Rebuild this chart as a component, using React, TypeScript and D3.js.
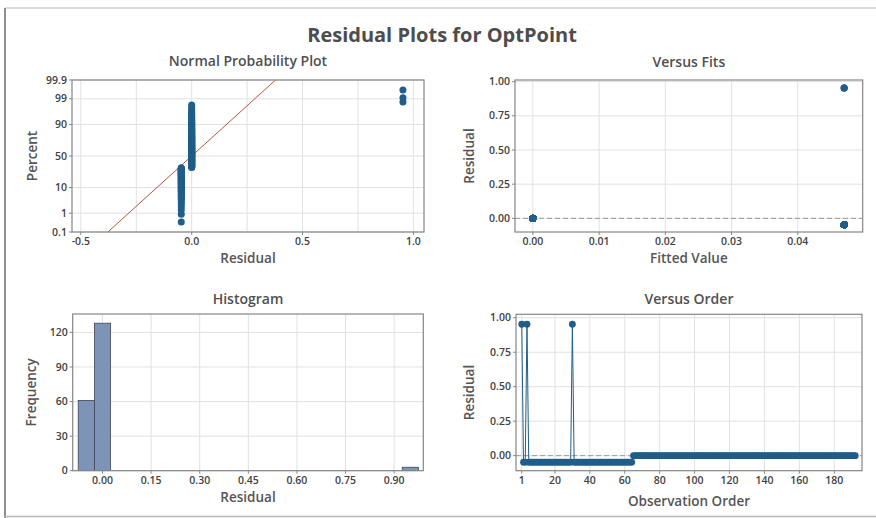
import React from 'react';
import * as d3 from 'd3';

const W = 876;
const H = 518;

// Residuals in observation order, stored as runs of equal values
const runResiduals = [0.953, -0.047, 0.953, -0.047, 0.953, -0.047, 0.0];
const runFits = [0.047, 0.047, 0.047, 0.047, 0.047, 0.047, 0.0];
const runLengths = [1, 2, 1, 25, 1, 34, 128];

// Axis ticks
const probYTicks = [0.1, 1, 10, 50, 90, 99, 99.9];
const probXTicks = [-0.5, 0, 0.5, 1.0];
const probXGrid = [-0.5, -0.25, 0, 0.25, 0.5, 0.75, 1.0];
const fitsXTicks = [0, 0.01, 0.02, 0.03, 0.04];
const residualTicks = [0, 0.25, 0.5, 0.75, 1.0];
const histXTicks = [0, 0.15, 0.3, 0.45, 0.6, 0.75, 0.9];
const histYTicks = [0, 30, 60, 90, 120];
const histBinStart = -0.075;
const histBinWidth = 0.05;
const orderTicks = [1, 20, 40, 60, 80, 100, 120, 140, 160, 180];

const BLUE = '#215d89';
const FONT = "'Open Sans', 'DejaVu Sans', sans-serif";
const TEXT = '#424242';

type Obs = { order: number; resid: number; fit: number };

const observations: Obs[] = runLengths
  .flatMap((len, i) => Array.from({ length: len }, () => ({ resid: runResiduals[i], fit: runFits[i] })))
  .map((d, i) => ({ ...d, order: i + 1 }));

// Inverse standard normal CDF (Acklam's rational approximation)
function probit(p: number): number {
  const a = [-3.969683028665376e1, 2.209460984245205e2, -2.759285104469687e2, 1.38357751867269e2, -3.066479806614716e1, 2.506628277459239];
  const b = [-5.447609879822406e1, 1.615858368580409e2, -1.556989798598866e2, 6.680131188771972e1, -1.328068155288572e1];
  const c = [-7.784894002430293e-3, -3.223964580411365e-1, -2.400758277161838, -2.549732539343734, 4.374664141464968, 2.938163982698783];
  const d = [7.784695709041462e-3, 3.224671290700398e-1, 2.445134137142996, 3.754408661907416];
  const pl = 0.02425;
  if (p < pl) {
    const q = Math.sqrt(-2 * Math.log(p));
    return (((((c[0] * q + c[1]) * q + c[2]) * q + c[3]) * q + c[4]) * q + c[5]) / ((((d[0] * q + d[1]) * q + d[2]) * q + d[3]) * q + 1);
  }
  if (p > 1 - pl) {
    const q = Math.sqrt(-2 * Math.log(1 - p));
    return -(((((c[0] * q + c[1]) * q + c[2]) * q + c[3]) * q + c[4]) * q + c[5]) / ((((d[0] * q + d[1]) * q + d[2]) * q + d[3]) * q + 1);
  }
  const q = p - 0.5;
  const r = q * q;
  return ((((((a[0] * r + a[1]) * r + a[2]) * r + a[3]) * r + a[4]) * r + a[5]) * q) / (((((b[0] * r + b[1]) * r + b[2]) * r + b[3]) * r + b[4]) * r + 1);
}

type Tick = { v: number; label: string };

type PanelProps = {
  id: string;
  left: number;
  right: number;
  top: number;
  bottom: number;
  xPos: (v: number) => number;
  yPos: (v: number) => number;
  xGrid: number[];
  yGrid: number[];
  xTicks: Tick[];
  yTicks: Tick[];
  title: string;
  titleY: number;
  xLabel: string;
  xLabelY: number;
  xTickY: number;
  yLabel: string;
  yLabelX: number;
  children?: React.ReactNode;
};

function Panel(p: PanelProps) {
  const cx = (p.left + p.right) / 2;
  const cy = (p.top + p.bottom) / 2;
  return (
    <g>
      <defs>
        <clipPath id={p.id}>
          <rect x={p.left} y={p.top} width={p.right - p.left} height={p.bottom - p.top} />
        </clipPath>
      </defs>
      <rect x={p.left} y={p.top} width={p.right - p.left} height={p.bottom - p.top} fill="#fff" />
      {p.xGrid.map((v) => (
        <line key={'gx' + v} x1={p.xPos(v)} x2={p.xPos(v)} y1={p.top} y2={p.bottom} stroke="#e1e1e1" strokeWidth={1} />
      ))}
      {p.yGrid.map((v) => (
        <line key={'gy' + v} x1={p.left} x2={p.right} y1={p.yPos(v)} y2={p.yPos(v)} stroke="#e1e1e1" strokeWidth={1} />
      ))}
      <g clipPath={`url(#${p.id})`}>{p.children}</g>
      <rect x={p.left} y={p.top} width={p.right - p.left} height={p.bottom - p.top} fill="none" stroke="#868686" strokeWidth={1.2} />
      {p.xTicks.map((t) => (
        <g key={'tx' + t.v}>
          <line x1={p.xPos(t.v)} x2={p.xPos(t.v)} y1={p.bottom} y2={p.bottom + 3} stroke="#868686" />
          <text x={p.xPos(t.v)} y={p.xTickY} textAnchor="middle" fontSize={10.5} fontWeight={600} fill={TEXT}>
            {t.label}
          </text>
        </g>
      ))}
      {p.yTicks.map((t) => (
        <g key={'ty' + t.v}>
          <line x1={p.left - 3} x2={p.left} y1={p.yPos(t.v)} y2={p.yPos(t.v)} stroke="#868686" />
          <text x={p.left - 5} y={p.yPos(t.v)} dy="0.35em" textAnchor="end" fontSize={10.5} fontWeight={600} fill={TEXT}>
            {t.label}
          </text>
        </g>
      ))}
      <text x={cx} y={p.titleY} textAnchor="middle" fontSize={14} fontWeight={600} fill="#4f4f4f">
        {p.title}
      </text>
      <text x={cx} y={p.xLabelY} textAnchor="middle" fontSize={13.5} fontWeight={600} fill="#555">
        {p.xLabel}
      </text>
      <text
        transform={`translate(${p.yLabelX},${cy}) rotate(-90)`}
        textAnchor="middle"
        fontSize={13.5}
        fontWeight={600}
        fill="#555"
      >
        {p.yLabel}
      </text>
    </g>
  );
}

export default function App() {
  const n = observations.length;
  const residuals = observations.map((d) => d.resid);
  const mean = d3.mean(residuals) as number;
  const sd = d3.deviation(residuals) as number;

  // Normal probability plot
  const npX = d3.scaleLinear().domain([-0.54, 1.048]).range([72, 424]);
  const npY = d3.scaleLinear().domain([-3.09, 3.09]).range([232, 80]);
  const sorted = [...residuals].sort((a, b) => a - b);
  const npPoints = sorted.map((r, i) => ({ r, z: probit((i + 1 - 0.3) / (n + 0.4)) }));
  const zLo = -3.5;
  const zHi = 3.5;

  // Versus fits
  const fX = d3.scaleLinear().domain([-0.0027, 0.0498]).range([515, 862.7]);
  const fY = d3.scaleLinear().domain([-0.1, 1.012]).range([232, 80]);

  // Histogram
  const hX = d3.scaleLinear().domain([-0.092, 0.99]).range([72.7, 423.3]);
  const hY = d3.scaleLinear().domain([0, 136]).range([470.7, 314]);
  const thresholds = d3.range(0, 22).map((k) => histBinStart + k * histBinWidth);
  const bins = d3
    .bin<number, number>()
    .domain([histBinStart, histBinStart + 21 * histBinWidth])
    .thresholds(thresholds)(residuals)
    .filter((b) => b.length > 0);

  // Versus order
  const oX = d3.scaleLinear().domain([-2.3, 195.9]).range([516, 862]);
  const oY = d3.scaleLinear().domain([-0.109, 1.025]).range([470.7, 314.3]);
  const orderLine = d3
    .line<Obs>()
    .x((d) => oX(d.order))
    .y((d) => oY(d.resid));

  const fmt = (digits: number) => (v: number) => v.toFixed(digits);

  return (
    <svg
      width={W}
      height={H}
      viewBox={`0 0 ${W} ${H}`}
      style={{ position: 'absolute', left: 0, top: 0, display: 'block', background: '#fff' }}
      fontFamily={FONT}
    >
      <rect x={0} y={0} width={W} height={H} fill="#fff" />
      {/* outer frame */}
      <line x1={5} x2={W} y1={8} y2={8} stroke="#d0d0d0" strokeWidth={1.5} />
      <line x1={5} x2={5} y1={8} y2={H} stroke="#8e8e8e" strokeWidth={2} />
      <line x1={5} x2={W} y1={516.5} y2={516.5} stroke="#b8b8b8" strokeWidth={1.5} />

      <text x={442} y={42} textAnchor="middle" fontSize={20} fontWeight={700} fill="#4d4d4d">
        Residual Plots for OptPoint
      </text>

      <Panel
        id="clip-np"
        left={72}
        right={424}
        top={80}
        bottom={232}
        xPos={npX}
        yPos={(p) => npY(probit(p / 100))}
        xGrid={probXGrid}
        yGrid={probYTicks}
        xTicks={probXTicks.map((v) => ({ v, label: fmt(1)(v) }))}
        yTicks={probYTicks.map((v) => ({ v, label: String(v) }))}
        title="Normal Probability Plot"
        titleY={66}
        xLabel="Residual"
        xLabelY={263}
        xTickY={245}
        yLabel="Percent"
        yLabelX={36.5}
      >
        <line
          x1={npX(mean + sd * zLo)}
          y1={npY(zLo)}
          x2={npX(mean + sd * zHi)}
          y2={npY(zHi)}
          stroke="#b9533f"
          strokeWidth={1}
        />
        {npPoints.map((d, i) => (
          <circle key={i} cx={npX(d.r)} cy={npY(d.z)} r={3.5} fill={BLUE} />
        ))}
      </Panel>

      <Panel
        id="clip-fits"
        left={515}
        right={862.7}
        top={80}
        bottom={232}
        xPos={fX}
        yPos={fY}
        xGrid={fitsXTicks}
        yGrid={residualTicks}
        xTicks={fitsXTicks.map((v) => ({ v, label: fmt(2)(v) }))}
        yTicks={residualTicks.map((v) => ({ v, label: fmt(2)(v) }))}
        title="Versus Fits"
        titleY={67}
        xLabel="Fitted Value"
        xLabelY={263}
        xTickY={245}
        yLabel="Residual"
        yLabelX={474}
      >
        <line x1={515} x2={862.7} y1={fY(0)} y2={fY(0)} stroke="#9a9a9a" strokeDasharray="5,3" />
        {observations.map((d, i) => (
          <circle key={i} cx={fX(d.fit)} cy={fY(d.resid)} r={3.5} fill={BLUE} />
        ))}
      </Panel>

      <Panel
        id="clip-hist"
        left={72.7}
        right={423.3}
        top={314}
        bottom={470.7}
        xPos={hX}
        yPos={hY}
        xGrid={histXTicks}
        yGrid={histYTicks}
        xTicks={histXTicks.map((v) => ({ v, label: fmt(2)(v) }))}
        yTicks={histYTicks.map((v) => ({ v, label: String(v) }))}
        title="Histogram"
        titleY={304}
        xLabel="Residual"
        xLabelY={502}
        xTickY={484}
        yLabel="Frequency"
        yLabelX={36}
      >
        {bins.map((b, i) => (
          <rect
            key={i}
            x={hX(b.x0 as number)}
            y={hY(b.length)}
            width={hX(b.x1 as number) - hX(b.x0 as number)}
            height={hY(0) - hY(b.length)}
            fill="#7d94b9"
            stroke="#3f4650"
            strokeWidth={0.8}
          />
        ))}
      </Panel>

      <Panel
        id="clip-order"
        left={516}
        right={862}
        top={314.3}
        bottom={470.7}
        xPos={oX}
        yPos={oY}
        xGrid={orderTicks}
        yGrid={residualTicks}
        xTicks={orderTicks.map((v) => ({ v, label: String(v) }))}
        yTicks={residualTicks.map((v) => ({ v, label: fmt(2)(v) }))}
        title="Versus Order"
        titleY={304}
        xLabel="Observation Order"
        xLabelY={506}
        xTickY={484}
        yLabel="Residual"
        yLabelX={474}
      >
        <line x1={516} x2={862} y1={oY(0)} y2={oY(0)} stroke="#9a9a9a" strokeDasharray="5,3" />
        <path d={orderLine(observations) as string} fill="none" stroke={BLUE} strokeWidth={1} />
        {observations.map((d, i) => (
          <circle key={i} cx={oX(d.order)} cy={oY(d.resid)} r={3.4} fill={BLUE} />
        ))}
      </Panel>
    </svg>
  );
}
